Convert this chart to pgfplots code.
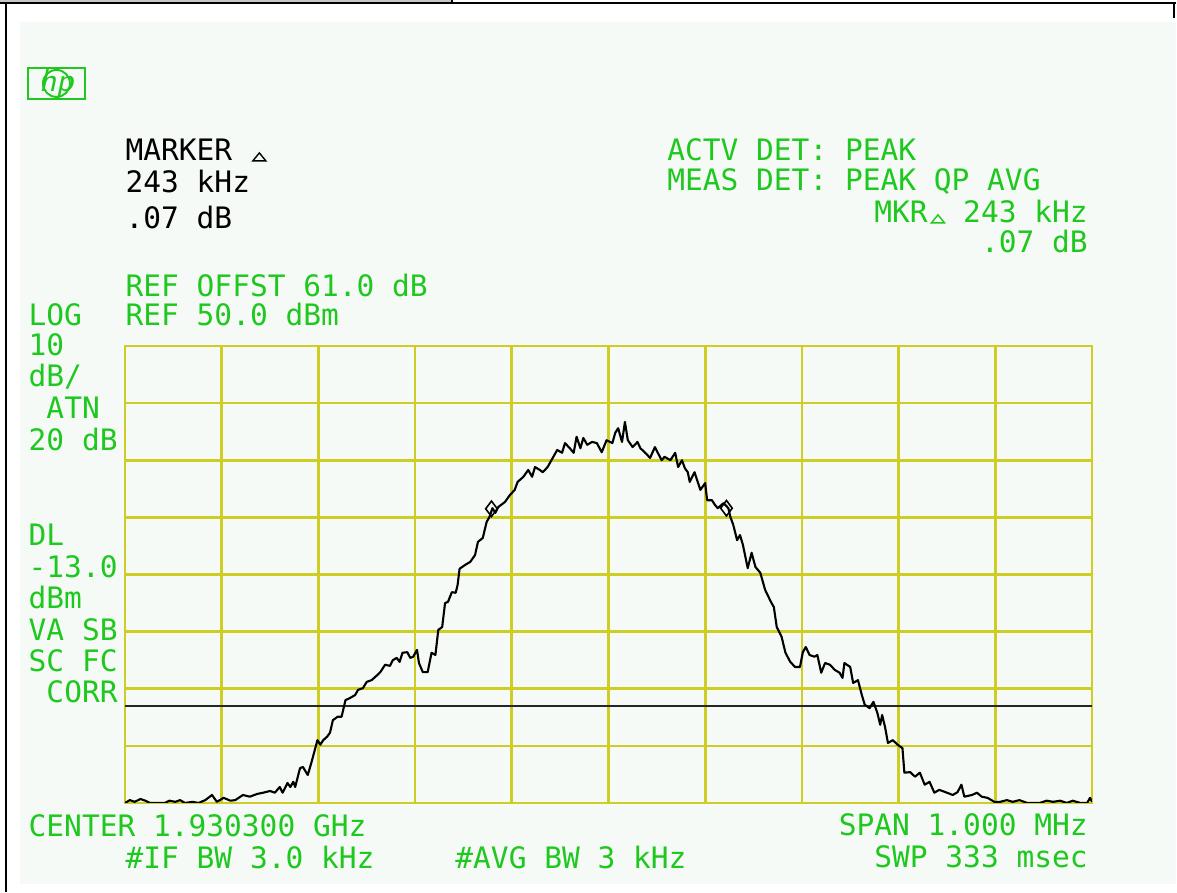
\documentclass[border=0pt]{standalone}
\usepackage{pgfplots}
\pgfplotsset{compat=1.18}
\usepackage{fontspec}
\newfontfamily\hpmono{DejaVu Sans Mono}

\definecolor{hpgreen}{RGB}{30,200,30}
\definecolor{hpgrid}{RGB}{205,205,35}
\definecolor{panel}{RGB}{246,250,247}

\tikzset{
  hp/.style={anchor=base west, inner sep=0pt, text=hpgreen,
    font=\hpmono\fontsize{8.4}{10}\selectfont},
  hpr/.style={hp, anchor=base east},
}

\begin{document}
\begin{tikzpicture}
\path[use as bounding box] (0,0) rectangle (11.77cm,8.93cm);

% screen frame and annotations, in pixel units measured from the top left
\begin{scope}[shift={(0cm,8.93cm)}, x=0.01cm, y=-0.01cm]
  \fill[panel] (20,22) rectangle (1177,885);
  \fill[gray!45] (0,0) rectangle (452,2.5);
  \draw[black, line width=0.6pt] (0,3) -- (1177,3);
  \draw[black, line width=0.6pt] (452,0) -- (452,4);
  \draw[black, line width=0.7pt] (6,3) -- (6,893);
  \draw[black, line width=0.6pt] (1175,3) -- (1175,18);

  % hp logo
  \draw[hpgreen, line width=0.55pt] (28,68) rectangle (85,99);
  \fill[panel] (56.5,83.5) circle (13.5);
  \draw[hpgreen, line width=0.55pt] (56.5,83.5) circle (13.5);
  \node[text=hpgreen, inner sep=0pt, font=\sffamily\itshape\fontsize{9.5}{9.5}\selectfont] at (56.5,83.5) {hp};

  % marker readout (black)
  \node[hp, text=black] at (125,161) {MARKER};
  \draw[black, line width=0.4pt] (253,161) -- (259.5,153) -- (266,161) -- cycle;
  \node[hp, text=black] at (125,193) {243 kHz};
  \node[hp, text=black] at (125,229) {.07 dB};

  \node[hp] at (125,297) {REF OFFST 61.0 dB};
  \node[hp] at (125,326) {REF 50.0 dBm};

  \node[hp] at (667,161) {ACTV DET: PEAK};
  \node[hp] at (667,191) {MEAS DET: PEAK QP AVG};
  \node[hpr] at (1089,223) {MKR\hphantom{M} 243 kHz};
  \draw[hpgreen, line width=0.4pt] (932,223) -- (938.5,215) -- (945,223) -- cycle;
  \node[hpr] at (1089,253) {.07 dB};

  % left side labels
  \node[hp] at (28,326) {LOG};
  \node[hp] at (28,356) {10};
  \node[hp] at (28,387) {dB/};
  \node[hp] at (45.8,419) {ATN};
  \node[hp] at (28,451) {20 dB};
  \node[hp] at (28,546) {DL};
  \node[hp] at (28,578) {-13.0};
  \node[hp] at (28,609) {dBm};
  \node[hp] at (28,641) {VA SB};
  \node[hp] at (28,672) {SC FC};
  \node[hp] at (45.8,703) {CORR};

  % bottom annotations
  \node[hp] at (28,837) {CENTER 1.930300 GHz};
  \node[hp] at (125,869) {\#IF BW 3.0 kHz};
  \node[hp] at (455,869) {\#AVG BW 3 kHz};
  \node[hpr] at (1089,836) {SPAN 1.000 MHz};
  \node[hpr] at (1089,868) {SWP 333 msec};
\end{scope}

\begin{axis}[
    at={(1.25cm,0.90cm)}, anchor=south west,
    scale only axis, width=9.67cm, height=4.57cm,
    xmin=-500, xmax=500, ymin=-30, ymax=50,
    xtick={-500,-400,...,500}, ytick={-30,-20,...,50},
    xticklabels={}, yticklabels={},
    major tick length=0pt,
    grid=major,
    grid style={hpgrid, line width=0.75pt},
    axis line style={hpgrid, line width=0.75pt},
  ]
  % display line DL -13.0 dBm
  \addplot[black!85, line width=0.7pt] coordinates {(-500,-13) (500,-13)};

  % trace: offset from 1.930300 GHz in kHz, level in dBm
  \addplot[black, line width=0.6pt, line join=round] coordinates {
    (-500,-30.0)(-495,-29.5)(-490,-29.8)(-484,-29.3)(-479,-29.6)(-474,-30.0)
    (-468,-30.0)(-459,-30.0)(-454,-29.6)(-448,-29.8)(-443,-29.5)(-438,-30.0)
    (-430,-29.8)(-424,-30.0)(-417,-29.5)(-410,-28.6)(-405,-29.8)(-398,-29.1)
    (-391,-29.6)(-386,-29.5)(-378,-28.6)(-371,-28.9)(-363,-28.4)(-357,-28.2)
    (-350,-27.9)(-345,-28.2)(-340,-27.2)(-337,-28.2)(-332,-26.5)(-329,-27.2)
    (-326,-26.3)(-324,-27.2)(-319,-23.9)(-316,-23.7)(-311,-25.1)(-307,-22.8)
    (-301,-19.0)(-298,-19.8)(-295,-19.0)(-291,-18.4)(-288,-17.7)(-285,-15.5)
    (-280,-14.9)(-276,-14.9)(-272,-12.0)(-267,-11.6)(-262,-11.1)(-259,-10.2)
    (-254,-9.9)(-250,-8.8)(-245,-8.5)(-239,-7.6)(-236,-7.1)(-231,-5.8)
    (-226,-6.0)(-223,-5.0)(-219,-4.6)(-216,-5.3)(-213,-3.7)(-208,-3.6)
    (-205,-4.6)(-202,-4.4)(-198,-3.2)(-196,-5.5)(-192,-7.1)(-187,-7.1)
    (-183,-3.7)(-179,-4.1)(-176,0.3)(-172,0.8)(-169,5.0)(-166,5.2)
    (-162,6.9)(-158,6.8)(-156,8.2)(-154,11.0)(-148,11.7)(-143,12.2)
    (-138,13.4)(-135,15.7)(-130,16.4)(-126,19.2)(-123,20.1)(-120,21.6)
    (-117,20.8)(-114,21.8)(-107,22.7)(-102,23.9)(-97,24.8)(-94,26.2)
    (-88,27.1)(-83,28.3)(-79,27.1)(-76,28.8)(-71,28.3)(-68,27.9)
    (-63,28.8)(-57,30.6)(-53,31.8)(-48,31.3)(-45,33.0)(-40,32.1)
    (-36,31.3)(-33,34.1)(-29,32.1)(-26,33.9)(-22,32.7)(-17,33.2)
    (-12,33.0)(-7,31.4)(-2,33.5)(4,33.0)(7,34.8)(10,35.6)
    (14,33.2)(17,36.7)(20,33.5)(25,32.3)(30,33.2)(33,32.1)
    (38,31.3)(43,30.4)(48,32.3)(51,31.3)(55,30.0)(58,30.6)
    (64,30.0)(69,31.3)(72,28.8)(76,30.0)(79,28.6)(82,27.9)
    (84,26.2)(89,27.9)(95,24.8)(100,26.0)(102,23.0)(107,23.0)
    (110,22.2)(113,21.6)(119,22.5)(124,21.6)(126,20.1)(129,18.7)
    (133,16.0)(136,16.9)(139,15.2)(144,11.1)(148,13.8)(152,11.3)
    (157,10.3)(162,7.3)(168,5.2)(171,4.3)(174,0.8)(179,-0.9)
    (183,-3.7)(188,-5.3)(193,-6.2)(198,-6.2)(201,-3.6)(204,-2.7)
    (208,-4.1)(213,-4.4)(216,-4.1)(220,-7.2)(224,-5.5)(229,-5.8)
    (234,-6.7)(239,-7.2)(242,-8.1)(244,-5.5)(250,-6.2)(253,-9.0)
    (258,-8.5)(262,-11.1)(265,-12.8)(270,-13.4)(274,-12.3)(278,-14.2)
    (281,-16.3)(283,-14.6)(286,-16.7)(289,-19.5)(294,-19.0)(299,-19.8)
    (304,-20.4)(306,-24.7)(312,-24.6)(317,-25.4)(322,-24.7)(327,-26.8)
    (332,-26.3)(337,-28.2)(342,-27.7)(350,-28.2)(356,-28.6)(361,-28.1)
    (365,-26.8)(368,-28.9)(376,-28.6)(381,-28.2)(386,-28.9)(392,-29.1)
    (399,-29.8)(405,-29.8)(412,-29.5)(418,-29.8)(425,-29.5)(433,-30.0)
    (439,-30.0)(446,-30.0)(453,-29.6)(460,-29.8)(467,-29.6)(474,-30.0)
    (480,-29.6)(488,-30.0)(495,-30.0)(498,-29.1)(500,-29.8)
  };

  % delta marker pair
  \addplot[only marks, mark=diamond, mark size=2.2pt,
    mark options={black, line width=0.45pt, fill=none}]
    coordinates {(-121,21.5) (122,21.6)};
\end{axis}
\end{tikzpicture}
\end{document}
